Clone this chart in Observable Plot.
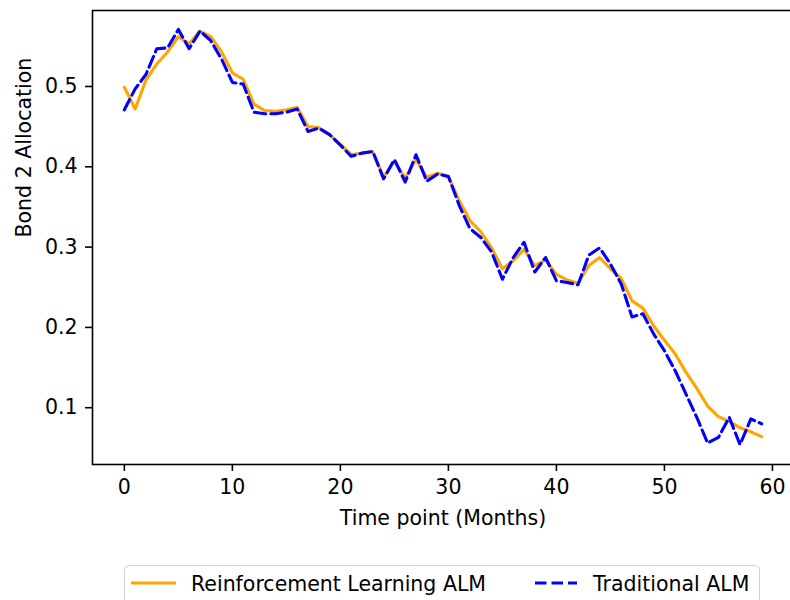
<!DOCTYPE html>
<html>
<head>
<meta charset="utf-8">
<script src="https://cdn.jsdelivr.net/npm/d3@7"></script>
<script src="https://cdn.jsdelivr.net/npm/@observablehq/plot@0.6"></script>
<style>
  html, body { margin: 0; padding: 0; background: #fff; overflow: hidden; }
  #wrap { position: relative; width: 790px; height: 600px; overflow: hidden; }
  #chart { position: absolute; left: 0; top: 0; width: 800px; }
  .legend {
    position: absolute; left: 124px; top: 565px; width: 634px; height: 60px;
    border: 1.3px solid #d0d0d0; border-radius: 5px; background: rgba(255,255,255,0.8);
    font-family: "DejaVu Sans", sans-serif; font-size: 20.5px; color: #000;
  }
  .legend .item { position: absolute; top: 6px; white-space: nowrap; line-height: 24px; }
  .legend svg { position: absolute; top: 0; }
</style>
</head>
<body>
<div id="wrap">
  <div id="chart"></div>
  <div class="legend">
    <svg width="634" height="40" style="left:0">
      <line x1="6" x2="51" y1="17" y2="17" stroke="orange" stroke-width="3.1"></line>
      <line x1="410" x2="452" y1="17" y2="17" stroke="blue" stroke-width="3.1" stroke-dasharray="11.5,5"></line>
    </svg>
    <span class="item" style="left:66px">Reinforcement Learning ALM</span>
    <span class="item" style="left:468px">Traditional ALM</span>
  </div>
</div>
<script>
// Month index along the horizontal axis
const months = [
  0, 1, 2, 3, 4, 5, 6, 7, 8, 9,
  10, 11, 12, 13, 14, 15, 16, 17, 18, 19,
  20, 21, 22, 23, 24, 25, 26, 27, 28, 29,
  30, 31, 32, 33, 34, 35, 36, 37, 38, 39,
  40, 41, 42, 43, 44, 45, 46, 47, 48, 49,
  50, 51, 52, 53, 54, 55, 56, 57, 58, 59
];

// Bond 2 allocation under the reinforcement learning strategy
const rlAllocation = [
  0.499, 0.472, 0.508, 0.528, 0.543, 0.562, 0.553, 0.569, 0.562, 0.543,
  0.517, 0.509, 0.478, 0.470, 0.469, 0.471, 0.474, 0.450, 0.449, 0.440,
  0.428, 0.415, 0.417, 0.419, 0.387, 0.407, 0.386, 0.409, 0.387, 0.392,
  0.388, 0.358, 0.333, 0.319, 0.299, 0.273, 0.283, 0.297, 0.277, 0.284,
  0.266, 0.259, 0.255, 0.277, 0.287, 0.273, 0.261, 0.233, 0.224, 0.202,
  0.184, 0.167, 0.144, 0.124, 0.102, 0.089, 0.083, 0.075, 0.070, 0.064
];

// Bond 2 allocation under the traditional strategy
const traditionalAllocation = [
  0.471, 0.497, 0.515, 0.547, 0.548, 0.571, 0.547, 0.569, 0.557, 0.534,
  0.505, 0.503, 0.468, 0.466, 0.466, 0.468, 0.472, 0.444, 0.448, 0.440,
  0.427, 0.413, 0.417, 0.419, 0.385, 0.409, 0.381, 0.415, 0.382, 0.391,
  0.388, 0.352, 0.323, 0.312, 0.294, 0.260, 0.287, 0.306, 0.269, 0.287,
  0.258, 0.256, 0.253, 0.290, 0.299, 0.279, 0.254, 0.213, 0.217, 0.192,
  0.171, 0.146, 0.117, 0.088, 0.056, 0.063, 0.088, 0.054, 0.086, 0.080
];

const xTicks = [0, 10, 20, 30, 40, 50, 60];
const yTicks = [0.1, 0.2, 0.3, 0.4, 0.5];

const xLabel = "Time point (Months)";
const yLabel = "Bond 2 Allocation";

const chart = Plot.plot({
  width: 800,
  height: 530,
  marginLeft: 92,
  marginRight: 7,
  marginTop: 10,
  marginBottom: 66,
  style: { fontFamily: "DejaVu Sans, sans-serif", fontSize: "20.5px", color: "#000", background: "transparent", maxWidth: "none" },
  x: { domain: [-2.95, 61.95] },
  y: { domain: [0.0293, 0.5946] },
  marks: [
    Plot.axisX({ ticks: xTicks, tickSize: 7, tickPadding: 8, strokeWidth: 1.6, label: null }),
    Plot.axisY({ ticks: yTicks, tickSize: 7, tickPadding: 8, strokeWidth: 1.6, label: null, tickFormat: d3.format(".1f") }),
    Plot.lineY(rlAllocation, { x: months, stroke: "orange", strokeWidth: 3.1, strokeLinejoin: "round" }),
    Plot.lineY(traditionalAllocation, { x: months, stroke: "blue", strokeWidth: 3.1, strokeDasharray: "11.5,5", strokeLinejoin: "round" }),
    Plot.frame({ stroke: "#000", strokeWidth: 1.6 }),
    Plot.text([xLabel], { frameAnchor: "bottom", dy: 54, lineAnchor: "middle", text: d => d, fontSize: 20.5 }),
    Plot.text([yLabel], { frameAnchor: "left", dx: -68, rotate: -90, lineAnchor: "middle", text: d => d, fontSize: 20.5 })
  ]
});

chart.style.maxWidth = "none";
document.getElementById("chart").appendChild(chart);
</script>
</body>
</html>
